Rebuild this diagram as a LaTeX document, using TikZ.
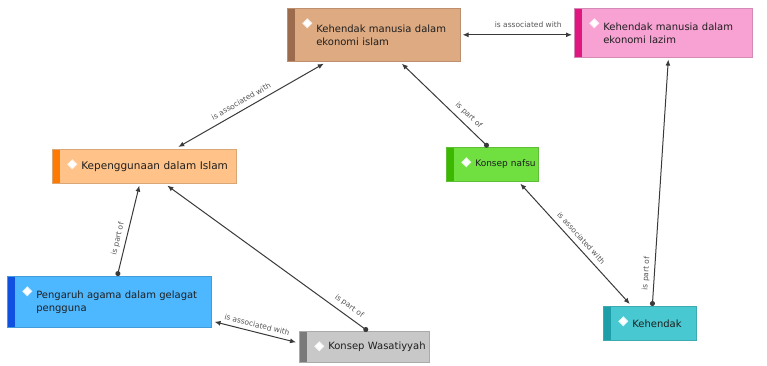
\documentclass[tikz,border=0pt]{standalone}
\usepackage{fontspec}
\setmainfont{DejaVu Sans}
\usetikzlibrary{arrows.meta}
\definecolor{aFill}{HTML}{DDAA82}\definecolor{aStrip}{HTML}{9C6B4E}
\definecolor{bFill}{HTML}{F8A2D4}\definecolor{bStrip}{HTML}{E0177F}
\definecolor{cFill}{HTML}{FFC38A}\definecolor{cStrip}{HTML}{FF7A00}
\definecolor{dFill}{HTML}{6FE040}\definecolor{dStrip}{HTML}{3CB800}
\definecolor{eFill}{HTML}{4DB8FF}\definecolor{eStrip}{HTML}{1050E0}
\definecolor{fFill}{HTML}{C8C8C8}\definecolor{fStrip}{HTML}{7A7A7A}
\definecolor{gFill}{HTML}{48C8D0}\definecolor{gStrip}{HTML}{1E9EA8}
\definecolor{lineC}{HTML}{3A3A3A}
\definecolor{txtC}{HTML}{1E1E1E}
\newcommand\ctext[1]{\leftskip=26pt\relax #1\par}
\tikzset{
  concept/.style 2 args={rectangle, anchor=north west, fill=#1, draw=#1!85!black, line width=0.6pt,
    inner xsep=3pt, inner ysep=2pt, align=left, text=txtC,
    font=\fontsize{10}{13}\selectfont,
    path picture={
      \fill[#2] (path picture bounding box.north west) rectangle ([xshift=8pt]path picture bounding box.south west);
      \fill[white, draw=white!80!#1, line width=0.8pt] ([shift={(20pt,-15pt)}]path picture bounding box.north west)
        +(-4.5pt,0pt) -- +(0pt,4.5pt) -- +(4.5pt,0pt) -- +(0pt,-4.5pt) -- cycle;
    }},
  assoc/.style={draw=lineC, line width=1pt, {Latex[length=6pt,width=5pt]}-{Latex[length=6pt,width=5pt]}},
  partof/.style={draw=lineC, line width=1pt, {Circle[length=5pt]}-{Latex[length=6pt,width=5pt]}},
  lbl/.style={font=\fontsize{7.5}{9}\selectfont, text=txtC!75!white, inner sep=1pt}
}
\begin{document}
\begin{tikzpicture}[x=1pt,y=-1pt]
\useasboundingbox (0,0) rectangle (767,365);
\fill[white] (0,0) rectangle (767,365);

\node[concept={aFill}{aStrip}, minimum width=173pt, minimum height=53pt, text width=167pt] (A) at (287,8)
  {\ctext{Kehendak manusia dalam\\ekonomi islam}};
\node[concept={bFill}{bStrip}, minimum width=178pt, minimum height=49pt, text width=172pt] (B) at (574,8)
  {\ctext{Kehendak manusia dalam\\ekonomi lazim}};
\node[concept={cFill}{cStrip}, minimum width=184pt, minimum height=34pt, text width=178pt,
  font=\fontsize{10.5}{13}\selectfont] (C) at (52,149)
  {\ctext{\mbox{Kepenggunaan dalam Islam}}};
\node[concept={dFill}{dStrip}, minimum width=92pt, minimum height=34pt, text width=86pt,
  font=\fontsize{9}{11}\selectfont] (D) at (446,147)
  {\ctext{\mbox{Konsep nafsu}}};
\node[concept={eFill}{eStrip}, minimum width=204pt, minimum height=51pt, text width=198pt] (E) at (7,276)
  {\ctext{Pengaruh agama dalam gelagat\\pengguna}};
\node[concept={fFill}{fStrip}, minimum width=130pt, minimum height=31pt, text width=124pt] (F) at (299,331)
  {\ctext{\mbox{Konsep Wasatiyyah}}};
\node[concept={gFill}{gStrip}, minimum width=93pt, minimum height=34pt, text width=87pt] (G) at (603,306)
  {\ctext{Kehendak}};

% edges
\draw[assoc] ([xshift=2pt]A.east) -- node[lbl, pos=0.6, above=6pt] {is associated with} ([xshift=-2pt]A.east -| B.west);
\draw[assoc] ([xshift=34pt,yshift=2pt]C.north) -- node[lbl, pos=0.46, sloped, above=4pt] {is associated with} ([xshift=-50pt,yshift=-2pt]A.south);
\draw[partof] ([xshift=-4pt]D.north) -- node[lbl, pos=0.3, sloped, above=4pt] {is part of} ([xshift=28pt,yshift=-2pt]A.south);
\draw[assoc] ([xshift=-20pt,yshift=2pt]G.north) -- node[lbl, pos=0.5, sloped, above=4pt] {is associated with} ([xshift=28pt,yshift=-2pt]D.south);
\draw[partof] ([xshift=2.5pt]G.north) -- node[lbl, pos=0.13, sloped, above=3pt] {is part of} ([xshift=5pt,yshift=-2pt]B.south);
\draw[partof] ([xshift=8pt]E.north) -- node[lbl, pos=0.39, sloped, above=3pt] {is part of} ([xshift=-5pt,yshift=-2pt]C.south);
\draw[partof] ([xshift=3.5pt]F.north) -- node[lbl, pos=0.12, sloped, above=4pt] {is part of} ([xshift=23pt,yshift=-2pt]C.south);
\draw[assoc] ([xshift=3pt,yshift=-20pt]E.east) -- node[lbl, pos=0.5, sloped, above=3pt] {is associated with} ([xshift=-3pt,yshift=4.5pt]F.west);
\end{tikzpicture}
\end{document}
